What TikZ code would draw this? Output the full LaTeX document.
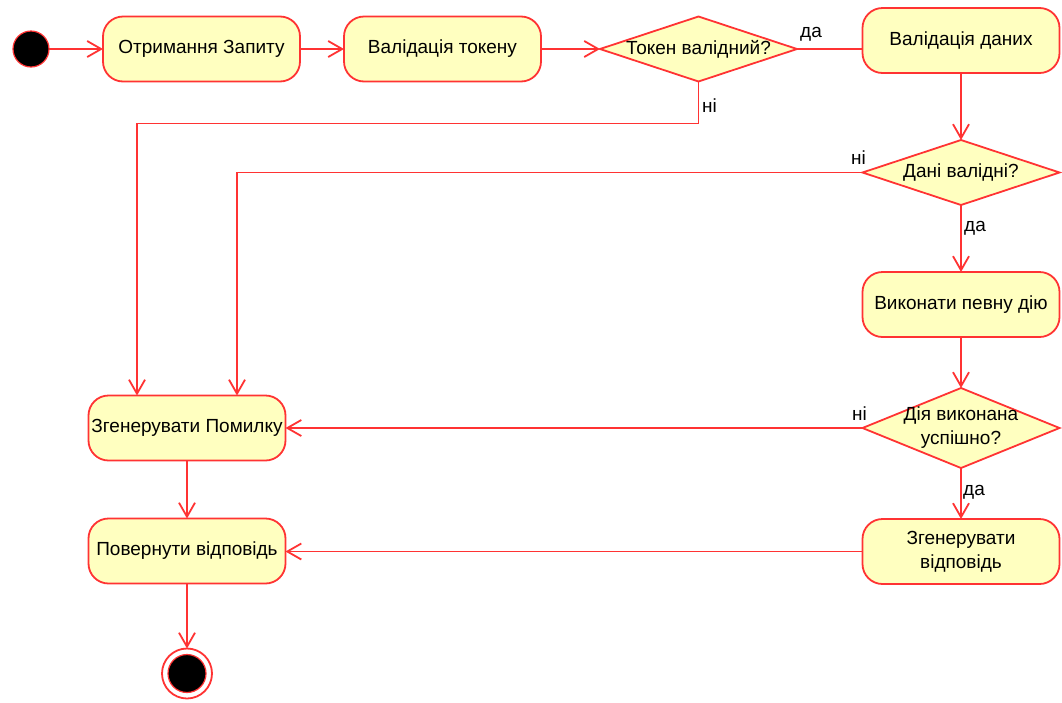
\documentclass[tikz,border=0pt]{standalone}
\usepackage{fontspec}
\setmainfont{Liberation Sans}
\usetikzlibrary{arrows.meta,positioning,shapes.geometric}
\definecolor{umlred}{RGB}{255,51,51}
\definecolor{umlfill}{RGB}{255,255,192}

\begin{document}
\begin{tikzpicture}[
  x=1pt, y=-1pt,
  font=\fontsize{19}{24}\selectfont,
  act/.style={rectangle,rounded corners=20pt,draw=umlred,fill=umlfill,line width=1.8pt,minimum width=197pt,minimum height=65pt,align=center,inner sep=2pt,outer sep=0pt},
  decision/.style={diamond,aspect=3,draw=umlred,fill=umlfill,line width=1.8pt,minimum width=197pt,minimum height=65pt,inner sep=-22pt,align=center,outer sep=0pt},
  startdot/.style={circle,draw=umlred,fill=black,line width=1.2pt,minimum size=36pt,inner sep=0pt,outer sep=0pt},
  arrow/.style={-{Straight Barb[length=14pt,width=16pt]},draw=umlred,line width=1.8pt},
  flow/.style={draw=umlred,line width=1.8pt},
  guard/.style={inner sep=0pt}
]
\useasboundingbox (0,0) rectangle (1062,702);

% top row
\node[startdot] (start) at (31,49) {};
\node[act, right=54pt of start] (recv) {Отримання Запиту};
\node[act, right=44pt of recv] (tok) {Валідація токену};
\node[decision, right=59pt of tok] (tokok) {Токен валідний?};

% right column
\node[act] (datav) at (961,40.5) {Валідація даних};
\node[decision, below=67pt of datav] (dataok) {Дані валідні?};
\node[act, below=67pt of dataok] (work) {Виконати певну дію};
\node[decision, minimum height=80pt, below=51pt of work] (workok) {Дія виконана\\успішно?};
\node[act, below=51pt of workok] (resp) {Згенерувати\\відповідь};

% left column
\node[act] (err) at (187,428) {Згенерувати Помилку};
\node[act, below=58pt of err] (ret) {Повернути відповідь};
\node[circle,draw=umlred,fill=white,line width=1.8pt,minimum size=50pt,inner sep=0pt,outer sep=0pt, below=65pt of ret] (end) {};
\node[startdot, minimum size=38pt] (endin) at (end) {};

\coordinate (errL) at ([xshift=-50pt]err.north);
\coordinate (errR) at ([xshift=50pt]err.north);

\draw[arrow] (start) -- (recv);
\draw[arrow] (recv) -- (tok);
\draw[arrow] (tok) -- (tokok);
\draw[flow] (tokok.east) node[guard, xshift=14pt, yshift=15pt] {да} -- (tokok.east -| datav.west);
\draw[arrow] (tokok.south) node[guard, xshift=11pt, yshift=-24pt] {ні} -- ++(0,42) -| (errL);
\draw[arrow] (datav) -- (dataok);
\draw[arrow] (dataok.west) node[guard, xshift=-4pt, yshift=15pt] {ні} -| (errR);
\draw[arrow] (dataok.south) node[guard, xshift=14pt, yshift=-23pt] {да} -- (work.north);
\draw[arrow] (work) -- (workok);
\draw[arrow] (workok.west) node[guard, xshift=-3pt, yshift=14pt] {ні} -- (err.east);
\draw[arrow] (workok.south) node[guard, xshift=13pt, yshift=-24pt] {да} -- (resp.north);
\draw[arrow] (resp.west) -- (resp.west -| ret.east);
\draw[arrow] (err) -- (ret);
\draw[arrow] (ret) -- (end);
\end{tikzpicture}
\end{document}
